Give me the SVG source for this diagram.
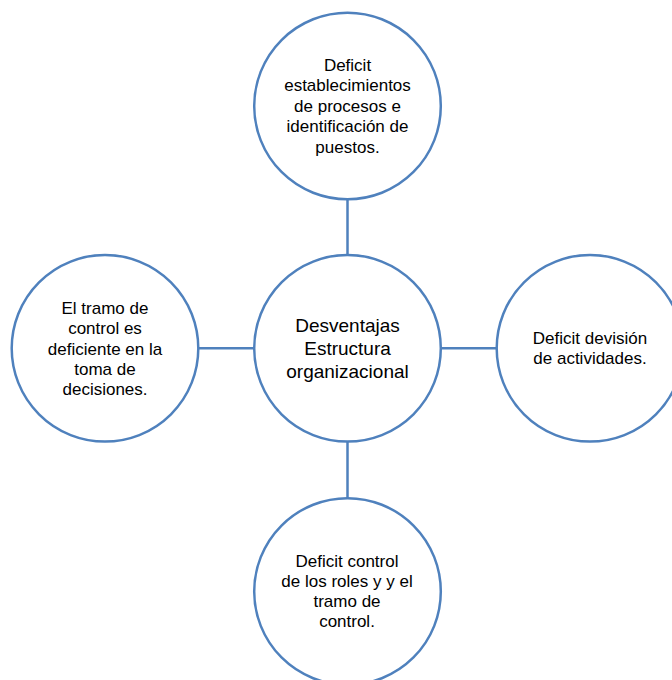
<svg xmlns="http://www.w3.org/2000/svg" width="672" height="680" viewBox="0 0 672 680">
<style>
.node{fill:#ffffff;stroke:#4f81bd;stroke-width:2.5}
.conn{stroke:#4f81bd;stroke-width:2.5;fill:none}
.t{font-family:"Liberation Sans",Arial,sans-serif;font-size:17px;fill:#000;text-anchor:middle}
.tc{font-family:"Liberation Sans",Arial,sans-serif;font-size:19px;fill:#000;text-anchor:middle}
</style>
<rect width="672" height="680" fill="#ffffff"/>
<g id="connectors">
<line class="conn" x1="347.5" y1="199" x2="347.5" y2="255"/>
<line class="conn" x1="347.5" y1="441.5" x2="347.5" y2="498"/>
<line class="conn" x1="198.5" y1="348.3" x2="254" y2="348.3"/>
<line class="conn" x1="441" y1="348.3" x2="496.7" y2="348.3"/>
</g>
<g id="center">
<circle class="node" cx="347.5" cy="348.3" r="93.3"/>
<text class="tc" x="347.5" y="331.7">Desventajas</text>
<text class="tc" x="347.5" y="355">Estructura</text>
<text class="tc" x="347.5" y="378">organizacional</text>
</g>
<g id="top">
<circle class="node" cx="347.5" cy="106" r="93.3"/>
<text class="t" x="347.5" y="70.5">Deficit</text>
<text class="t" x="347.5" y="91">establecimientos</text>
<text class="t" x="347.5" y="111.5">de procesos e</text>
<text class="t" x="347.5" y="132">identificación de</text>
<text class="t" x="347.5" y="152.5">puestos.</text>
</g>
<g id="left">
<circle class="node" cx="105" cy="348.3" r="93.3"/>
<text class="t" x="105" y="314">El tramo de</text>
<text class="t" x="105" y="334.3">control es</text>
<text class="t" x="105" y="354.6">deficiente en la</text>
<text class="t" x="105" y="374.9">toma de</text>
<text class="t" x="105" y="395.2">decisiones.</text>
</g>
<g id="right">
<circle class="node" cx="590" cy="348.3" r="93.3"/>
<text class="t" x="590" y="344">Deficit devisión</text>
<text class="t" x="590" y="364">de actividades.</text>
</g>
<g id="bottom">
<circle class="node" cx="347.5" cy="591.5" r="93.3"/>
<text class="t" x="347" y="566.7">Deficit control</text>
<text class="t" x="347" y="586.7">de los roles y y el</text>
<text class="t" x="347" y="606.7">tramo de</text>
<text class="t" x="347" y="626.7">control.</text>
</g>
</svg>
